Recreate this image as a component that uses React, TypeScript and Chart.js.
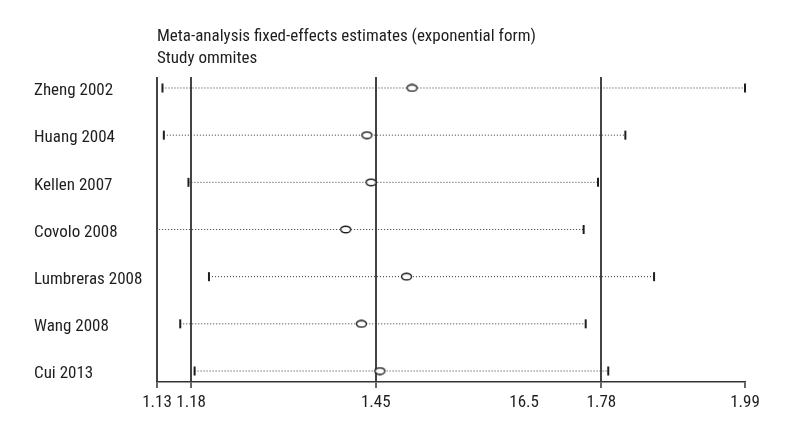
import React, { useEffect, useRef } from "react";
import { Chart, registerables } from "chart.js";

Chart.register(...registerables);

const STUDIES = ["Zheng 2002", "Huang 2004", "Kellen 2007", "Covolo 2008", "Lumbreras 2008", "Wang 2008", "Cui 2013"];
const ESTIMATE = [1.503, 1.437, 1.443, 1.406, 1.495, 1.429, 1.456];
const LOWER = [1.138, 1.14, 1.176, 1.12, 1.206, 1.164, 1.185];
const UPPER = [1.99, 1.815, 1.775, 1.754, 1.857, 1.757, 1.79];
const X_TICKS = [1.13, 1.18, 1.45, 1.667, 1.78, 1.99];
const X_TICK_LABELS = ["1.13", "1.18", "1.45", "16.5", "1.78", "1.99"];
const REF_LINES = [1.13, 1.18, 1.45, 1.78];
const TITLE_LINES = ["Meta-analysis fixed-effects estimates (exponential form)", "Study ommites"];

const FONT_FAMILY = '"Roboto Condensed", "DejaVu Sans Condensed", sans-serif';
const FONT_SIZE = 17;
const INK = "#1e1e1e";

function makeEllipse(): HTMLCanvasElement {
  const c = document.createElement("canvas");
  c.width = 13;
  c.height = 9;
  const g = c.getContext("2d")!;
  g.beginPath();
  g.ellipse(6.5, 4.5, 5, 3.3, 0, 0, Math.PI * 2);
  g.fillStyle = "#fff";
  g.fill();
  g.lineWidth = 1.4;
  g.strokeStyle = INK;
  g.stroke();
  return c;
}

export default function App() {
  const ref = useRef<HTMLCanvasElement | null>(null);

  useEffect(() => {
    const canvas = ref.current;
    if (!canvas) return;
    const ellipse = makeEllipse();

    const lineSets: any[] = STUDIES.map((s, i) => ({
      type: "scatter",
      label: s,
      data: [
        { x: LOWER[i], y: i },
        { x: UPPER[i], y: i },
      ],
      showLine: true,
      borderColor: "#333",
      borderWidth: 1,
      borderDash: [1, 2],
      pointRadius: 0,
      order: 3,
    }));

    const ends: any = {
      type: "scatter",
      label: "limits",
      data: STUDIES.flatMap((_, i) => [
        { x: LOWER[i], y: i },
        { x: UPPER[i], y: i },
      ]),
      pointStyle: "line",
      rotation: 90,
      pointRadius: 4.5,
      borderWidth: 2,
      borderColor: INK,
      clip: { left: 0, right: 6, top: 6, bottom: 6 },
      order: 2,
    };

    const est: any = {
      type: "scatter",
      label: "estimate",
      data: STUDIES.map((_, i) => ({ x: ESTIMATE[i], y: i })),
      pointStyle: ellipse,
      pointRadius: 5,
      order: 1,
    };

    const titlePlugin = {
      id: "titleText",
      afterDraw(chart: any) {
        const g = chart.ctx;
        g.save();
        g.font = `${FONT_SIZE}px ${FONT_FAMILY}`;
        g.fillStyle = INK;
        g.textAlign = "left";
        g.textBaseline = "middle";
        g.fillText(TITLE_LINES[0], chart.chartArea.left, 37);
        g.fillText(TITLE_LINES[1], chart.chartArea.left, 59);
        g.restore();
      },
    };

    const chart = new Chart(canvas, {
      type: "scatter",
      data: { datasets: [...lineSets, ends, est] },
      plugins: [titlePlugin],
      options: {
        animation: false,
        responsive: false,
        layout: { padding: { left: 34, right: 55, top: 77, bottom: 0 } },
        plugins: { legend: { display: false }, tooltip: { enabled: false }, title: { display: false } },
        scales: {
          x: {
            type: "linear",
            min: 1.13,
            max: 1.99,
            afterBuildTicks: (scale: any) => {
              scale.ticks = X_TICKS.map((v) => ({ value: v }));
            },
            afterFit: (scale: any) => {
              scale.height = 58;
            },
            ticks: {
              autoSkip: false,
              maxRotation: 0,
              padding: 5,
              color: INK,
              font: { family: FONT_FAMILY, size: FONT_SIZE },
              callback: (_v: any, i: number) => X_TICK_LABELS[i],
            },
            grid: {
              drawOnChartArea: true,
              color: (ctx: any) =>
                ctx.tick && REF_LINES.includes(ctx.tick.value) ? "#444" : "rgba(0,0,0,0)",
              lineWidth: 2,
              tickLength: 6,
              tickColor: (ctx: any) =>
                ctx.tick && ctx.tick.value === X_TICKS[3] ? "rgba(0,0,0,0)" : "#333",
              tickWidth: 1.5,
            },
            border: { display: true, color: "#333", width: 1.5 },
          },
          y: {
            type: "linear",
            min: -0.233,
            max: 6.233,
            reverse: true,
            afterBuildTicks: (scale: any) => {
              scale.ticks = STUDIES.map((_, i) => ({ value: i }));
            },
            afterFit: (scale: any) => {
              scale.width = 123;
            },
            ticks: {
              autoSkip: false,
              crossAlign: "far",
              labelOffset: 3,
              color: INK,
              font: { family: FONT_FAMILY, size: FONT_SIZE },
              callback: (v: any) => STUDIES[v] ?? "",
            },
            grid: { display: false },
            border: { display: false },
          },
        },
      },
    });

    return () => chart.destroy();
  }, []);

  return (
    <div style={{ position: "absolute", left: 0, top: 0, width: 800, height: 440, background: "#fff" }}>
      <canvas ref={ref} width={800} height={440} />
    </div>
  );
}
